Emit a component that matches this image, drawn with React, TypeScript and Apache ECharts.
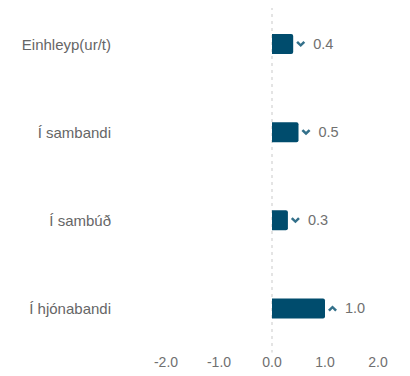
import React, { useEffect, useRef } from "react";
import * as echarts from "echarts";

const categories = ["Einhleyp(ur/t)", "Í sambandi", "Í sambúð", "Í hjónabandi"];
const values = [0.4, 0.5, 0.3, 1.0];
const directions = ["down", "down", "down", "up"];
const xTicks = [-2, -1, 0, 1, 2];

const DOWN = "path://M0,2 L2,0 L5,3 L8,0 L10,2 L5,7 Z";
const UP = "path://M0,5 L2,7 L5,4 L8,7 L10,5 L5,0 Z";

export default function App() {
  const ref = useRef<HTMLDivElement>(null);
  useEffect(() => {
    if (!ref.current) return;
    const chart = echarts.init(ref.current, null, { renderer: "svg" });
    chart.setOption({
      animation: false,
      textStyle: { fontFamily: "Arial, 'Liberation Sans', sans-serif" },
      grid: { left: 166, right: 32, top: -3.5, bottom: 23.5, containLabel: false },
      xAxis: {
        type: "value",
        min: xTicks[0],
        max: xTicks[xTicks.length - 1],
        interval: 1,
        axisLine: { show: false },
        axisTick: { show: false },
        splitLine: { show: false },
        axisLabel: {
          color: "#707070",
          fontSize: 14,
          margin: 2,
          formatter: (v: number) => v.toFixed(1),
        },
      },
      yAxis: {
        type: "category",
        data: categories,
        inverse: true,
        axisLine: { show: false },
        axisTick: { show: false },
        axisLabel: { color: "#666", fontSize: 15, margin: 55 },
      },
      series: [
        {
          type: "scatter",
          data: [],
          z: 1,
          markLine: {
            silent: true,
            z: 1,
            symbol: "none",
            label: { show: false },
            lineStyle: { color: "#e4e4e4", type: [3, 4], width: 2 },
            data: [{ xAxis: 0 }],
          },
        },
        {
          type: "bar",
          data: values,
          barWidth: 20,
          z: 3,
          itemStyle: { color: "#004c6d", borderRadius: [0, 2, 2, 0] },
          label: {
            show: true,
            position: "right",
            distance: 20,
            color: "#707070",
            fontSize: 14.5,
            formatter: (p: any) => Number(p.value).toFixed(1),
          },
        },
        {
          type: "scatter",
          data: values.map((v, i) => ({
            value: [v, categories[i]],
            symbol: directions[i] === "up" ? UP : DOWN,
          })),
          symbolSize: [9, 6],
          symbolOffset: [7.5, 0],
          itemStyle: { color: "#004c6d" },
          silent: true,
          z: 5,
        },
      ],
    });
    return () => chart.dispose();
  }, []);
  return <div ref={ref} style={{ width: 410, height: 376, margin: -8 }} />;
}
